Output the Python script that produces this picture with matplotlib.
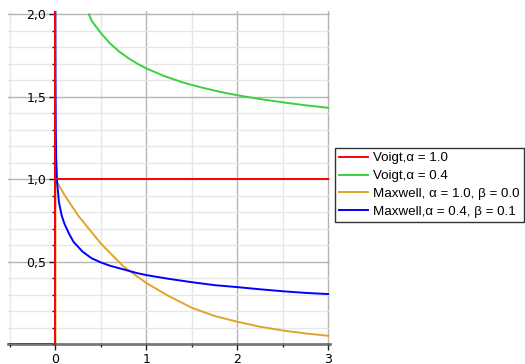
import matplotlib
matplotlib.use('Agg')
import matplotlib.pyplot as plt
from matplotlib.ticker import MultipleLocator, FixedLocator, FuncFormatter

# Voigt, alpha = 1.0 : step at t=0, constant 1 afterwards
voigt1_t = [-0.52, 0.0, 0.0, 0.0, 3.0]
voigt1_y = [0.0, 0.0, 2.1, 1.0, 1.0]

# Voigt, alpha = 0.4
voigt04_t = [0.37, 0.4, 0.5, 0.6, 0.7, 0.8, 0.9, 1.0, 1.2, 1.4, 1.6, 1.8, 2.0, 2.25, 2.5, 2.75, 3.0]
voigt04_y = [2.0, 1.96, 1.887, 1.824, 1.775, 1.735, 1.701, 1.672, 1.625, 1.587, 1.557, 1.531, 1.509, 1.486, 1.466, 1.448, 1.433]

# Maxwell, alpha = 1.0, beta = 0.0
maxw1_t = [-0.52, 0.0, 0.0, 0.1, 0.25, 0.5, 0.75, 1.0, 1.25, 1.5, 1.75, 2.0, 2.25, 2.5, 2.75, 3.0]
maxw1_y = [0.0, 0.0, 1.0, 0.905, 0.78, 0.61, 0.47, 0.37, 0.29, 0.22, 0.17, 0.135, 0.105, 0.082, 0.064, 0.05]

# Maxwell, alpha = 0.4, beta = 0.1
maxw2_t = [0.0, 0.002, 0.005, 0.01, 0.02, 0.04, 0.07, 0.1, 0.15, 0.2, 0.3, 0.4, 0.5, 0.6, 0.7, 0.8, 0.9, 1.0,
           1.25, 1.5, 1.75, 2.0, 2.25, 2.5, 2.75, 3.0]
maxw2_y = [2.1, 1.6, 1.3, 1.12, 0.98, 0.86, 0.78, 0.73, 0.67, 0.62, 0.56, 0.52, 0.495, 0.475, 0.46, 0.445, 0.43, 0.418,
           0.395, 0.375, 0.357, 0.345, 0.332, 0.32, 0.31, 0.303]

labels = ['Voigt,\u03b1 = 1.0', 'Voigt,\u03b1 = 0.4', 'Maxwell, \u03b1 = 1.0, \u03b2 = 0.0', 'Maxwell,\u03b1 = 0.4, \u03b2 = 0.1']
colors = ['#ff0000', '#3cd03c', '#e0a428', '#0000ff']

fig = plt.figure(figsize=(5.25, 3.64), dpi=100)
ax = fig.add_axes([8 / 525, 20 / 364, 322 / 525, 333 / 364])
ax.set_xlim(-0.52, 3.02)
ax.set_ylim(0, 2.02)

# grid: light every 0.1 / 0.5, darker on the labelled values
ax.xaxis.set_major_locator(MultipleLocator(1))
ax.xaxis.set_minor_locator(MultipleLocator(0.5))
ax.yaxis.set_major_locator(FixedLocator([0.5, 1.0, 1.5, 2.0]))
ax.yaxis.set_minor_locator(MultipleLocator(0.1))
ax.grid(which='major', color='#b4b4b4', linewidth=1.0, zorder=0)
ax.grid(which='minor', color='#e6e6e6', linewidth=1.0, zorder=0)
ax.set_axisbelow(True)

ax.xaxis.set_major_formatter(FuncFormatter(lambda v, p: '%d' % v))
ax.yaxis.set_major_formatter(FuncFormatter(lambda v, p: ('%.1f' % v).replace('.', ',')))

ax.spines['top'].set_visible(False)
ax.spines['right'].set_visible(False)
ax.spines['left'].set_position(('data', 0))
ax.spines['left'].set_color('#202050')
ax.spines['bottom'].set_color('#555555')
ax.spines['bottom'].set_linewidth(2)
ax.spines['bottom'].set_zorder(5)
ax.spines['bottom'].set_alpha(0.8)

ax.tick_params(which='major', length=4.5, width=1, color='#202020', labelsize=9, pad=2)
ax.tick_params(which='minor', length=2.2, width=1, color='#202020')

ax.plot(maxw1_t, maxw1_y, color=colors[2], lw=1.4, label=labels[2], zorder=3)
ax.plot(voigt04_t, voigt04_y, color=colors[1], lw=1.4, label=labels[1], zorder=3)
ax.plot(maxw2_t, maxw2_y, color=colors[3], lw=1.4, label=labels[3], zorder=3)
ax.plot(voigt1_t, voigt1_y, color=colors[0], lw=1.4, label=labels[0], zorder=4)

handles, labs = ax.get_legend_handles_labels()
order = [labs.index(l) for l in labels]
leg = fig.legend([handles[i] for i in order], labels, loc='center left',
                 bbox_to_anchor=(335 / 525, (364 - 185) / 364),
                 frameon=True, fancybox=False, edgecolor='black', handlelength=2.2,
                 labelspacing=0.42, borderpad=0.3, handletextpad=0.35, borderaxespad=0,
                 prop={'family': 'Liberation Sans', 'size': 9.6})
leg.get_frame().set_linewidth(1.0)

fig.savefig('out.png', dpi=100)
